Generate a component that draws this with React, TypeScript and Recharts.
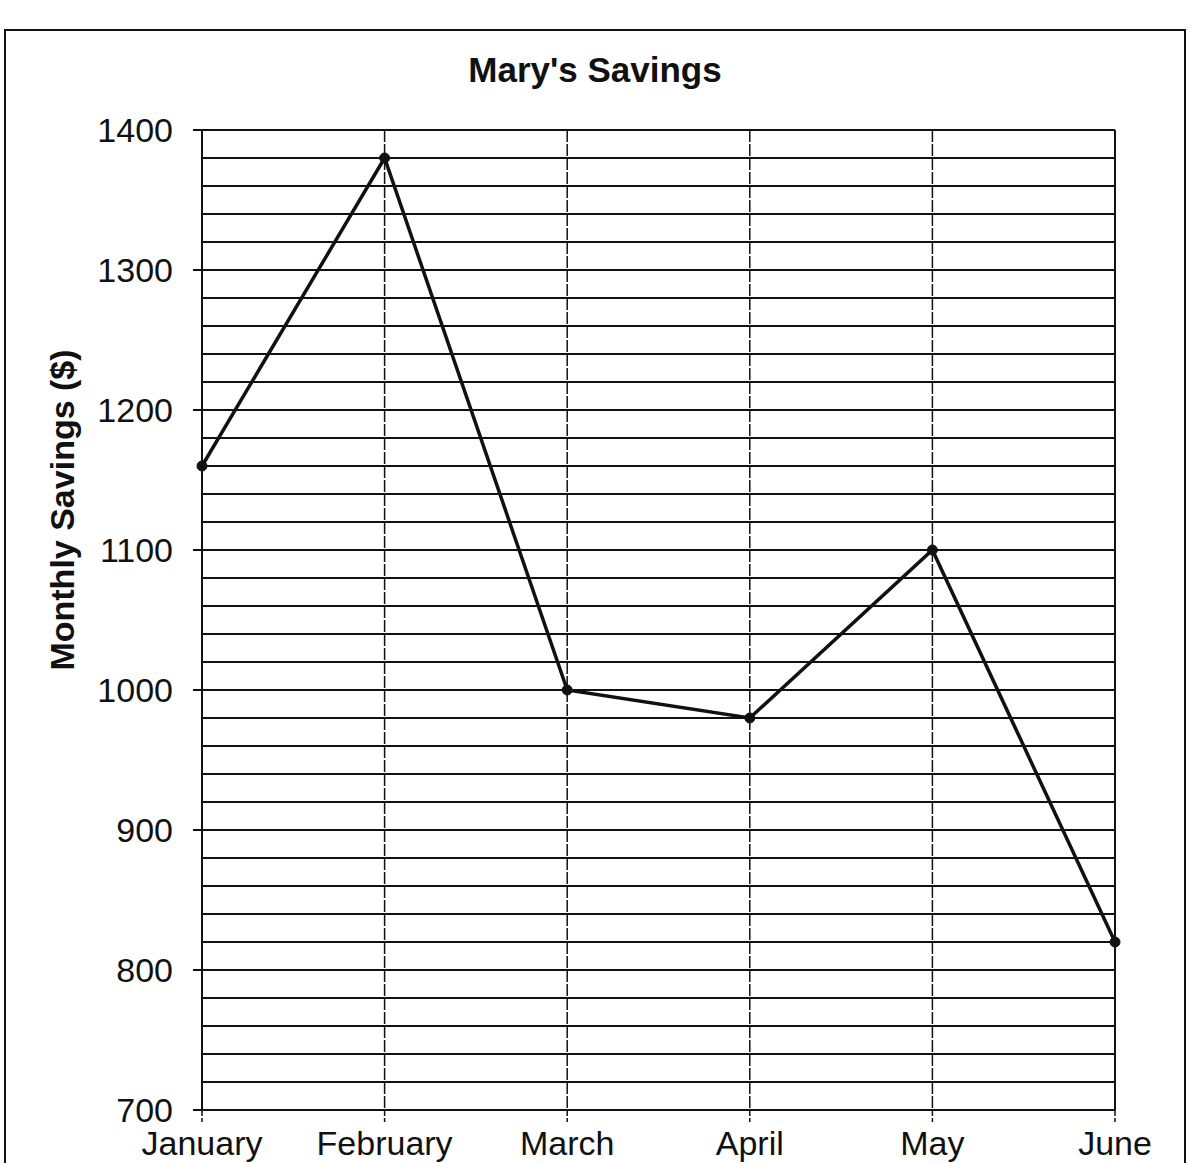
import { LineChart, Line, XAxis, YAxis, CartesianGrid, ReferenceLine } from 'recharts'

const months = ['January', 'February', 'March', 'April', 'May', 'June']
const savings = [1160, 1380, 1000, 980, 1100, 820]
const yTicks = [
  700, 720, 740, 760, 780, 800, 820, 840, 860, 880, 900, 920, 940, 960, 980, 1000, 1020, 1040,
  1060, 1080, 1100, 1120, 1140, 1160, 1180, 1200, 1220, 1240, 1260, 1280, 1300, 1320, 1340,
  1360, 1380, 1400,
]
const yLabels = [700, 800, 900, 1000, 1100, 1200, 1300, 1400]

const data = months.map((month, i) => ({ month, savings: savings[i] }))

const FONT = '"Liberation Sans", Arial, sans-serif'
const INK = '#111'

function YTick({ x, y, payload }: any) {
  if (!yLabels.includes(payload.value)) return null
  return (
    <g>
      <line x1={x - 9} x2={x} y1={y} y2={y} stroke={INK} strokeWidth={2} />
      <text x={x - 29} y={y} dy="0.36em" textAnchor="end" fontSize={34} fontFamily={FONT} fill={INK}>
        {payload.value}
      </text>
    </g>
  )
}

function XTick({ x, y, payload }: any) {
  return (
    <g>
      <line x1={x} x2={x} y1={y} y2={y + 12} stroke={INK} strokeWidth={1.5} strokeDasharray="6 2" />
      <text x={x} y={y + 45} textAnchor="middle" fontSize={34} fontFamily={FONT} fill={INK}>
        {payload.value}
      </text>
    </g>
  )
}

export default function App() {
  return (
    <div style={{ position: 'absolute', left: 0, top: 0, width: 1198, height: 1163, overflow: 'hidden', background: '#fff' }}>
      <div
        style={{
          position: 'absolute',
          left: 4,
          top: 29,
          width: 1178,
          height: 1200,
          border: `2px solid ${INK}`,
        }}
      />
      <LineChart
        width={1198}
        height={1163}
        data={data}
        margin={{ top: 130, right: 83, bottom: 3, left: 102 }}
      >
        <CartesianGrid horizontal vertical={false} stroke={INK} strokeWidth={2} />
        <CartesianGrid horizontal={false} vertical stroke={INK} strokeWidth={1.5} strokeDasharray="12 2" />
        <XAxis
          dataKey="month"
          padding={{ left: 0, right: 0 }}
          height={50}
          tickLine={false}
          tickSize={0}
          tickMargin={0}
          axisLine={{ stroke: INK, strokeWidth: 2 }}
          tick={<XTick />}
          interval={0}
        />
        <YAxis
          domain={[700, 1400]}
          ticks={yTicks}
          width={100}
          tickLine={false}
          tickSize={0}
          tickMargin={0}
          axisLine={{ stroke: INK, strokeWidth: 2 }}
          tick={<YTick />}
          interval={0}
        />
        <ReferenceLine x="June" stroke={INK} strokeWidth={2} />
        <Line
          dataKey="savings"
          type="linear"
          stroke={INK}
          strokeWidth={3.5}
          dot={{ r: 5, fill: INK, stroke: INK, strokeWidth: 1 }}
          isAnimationActive={false}
        />
      </LineChart>
      <svg width={1198} height={1163} style={{ position: 'absolute', left: 0, top: 0, pointerEvents: 'none' }}>
        <text x={595} y={82} textAnchor="middle" fontSize={35} fontWeight="bold" fontFamily={FONT} fill={INK}>
          Mary's Savings
        </text>
        <text
          transform="translate(74,510) rotate(-90)"
          textAnchor="middle"
          fontSize={34}
          fontWeight="bold"
          fontFamily={FONT}
          fill={INK}
        >
          Monthly Savings ($)
        </text>
      </svg>
    </div>
  )
}
